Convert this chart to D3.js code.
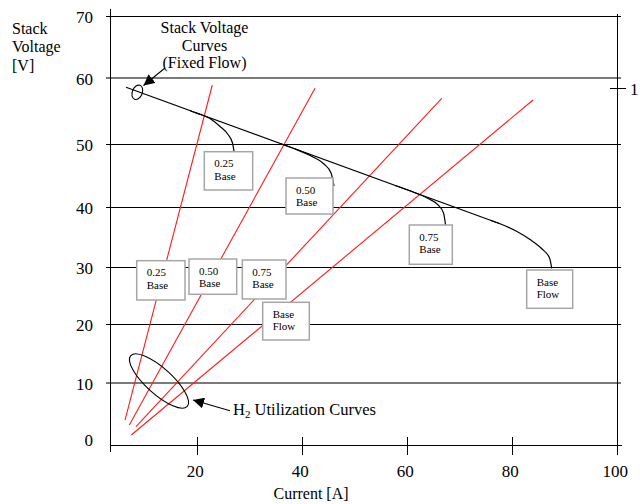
<!DOCTYPE html>
<html>
<head>
<meta charset="utf-8">
<script src="https://cdn.jsdelivr.net/npm/d3@7"></script>
<style>
  html, body { margin: 0; padding: 0; background: #fff; }
  svg { display: block; }
  text { font-family: "Liberation Serif", "DejaVu Serif", serif; fill: #000; }
</style>
</head>
<body>
<svg id="chart" width="640" height="504"></svg>
<script>
// ---------------- data ----------------
const yTicks = [0, 10, 20, 30, 40, 50, 60, 70];
const xTicks = [20, 40, 60, 80, 100];
const grayGridValues = [10, 60];

// Stack voltage (fixed flow) – common linear region, [current A, voltage V]
const voltageLine = [[6.45, 58.6], [77.67, 37.2]];
// drop-off of each fixed-flow curve
const curve025 = [[18.64, 55.05], [20.16, 54.61], [22.44, 53.86], [24.35, 52.65], [25.87, 51.44], [26.73, 50.15], [27.01, 48.89]];
const curve050 = [[35.77, 50.08], [38.25, 49.32], [41.87, 48.02], [44.15, 46.83], [45.49, 45.40], [46.06, 43.33]];
const curve075 = [[57.67, 43.41], [60.53, 42.57], [63.96, 41.35], [65.86, 40.32], [66.91, 39.0], [67.29, 37.0]];
const curveBase = [[75.77, 37.8], [77.67, 37.2], [80.72, 36.0], [83.38, 34.58], [85.67, 33.0], [87.1, 31.5], [87.52, 29.77]];

// H2 utilization lines [current A, voltage V]
const util025 = [[6.26, 4.03], [22.88, 58.94]];
const util050 = [[7.08, 3.23], [42.44, 58.44]];
const util075 = [[8.35, 2.98], [66.57, 56.92]];
const utilBase = [[7.46, 1.61], [83.96, 56.67]];

const curveLabels = [["0.25", "Base"], ["0.50", "Base"], ["0.75", "Base"], ["Base", "Flow"]];
const utilLabels = [["0.25", "Base"], ["0.50", "Base"], ["0.75", "Base"], ["Base", "Flow"]];

const yTitle = ["Stack", "Voltage", "[V]"];
const xTitle = "Current [A]";
const voltageNote = ["Stack Voltage", "Curves", "(Fixed Flow)"];

// ---------------- drawing ----------------
const svg = d3.select("#chart");

const x = d3.scaleLinear().domain([3.4, 100]).range([110, 617.3]);
const y = d3.scaleLinear().domain(yTicks).range([445, 383, 324, 267, 207, 144, 78, 16]);

// gridlines
svg.append("g").attr("shape-rendering", "crispEdges")
  .selectAll("line").data(yTicks.filter(d => d > 0)).join("line")
  .attr("x1", 106).attr("x2", 621)
  .attr("y1", d => y(d)).attr("y2", d => y(d))
  .attr("stroke", d => grayGridValues.includes(d) ? "#7a7a7a" : "#000")
  .attr("stroke-width", d => grayGridValues.includes(d) ? 2 : 1);

// axes frame
const frame = svg.append("g").attr("shape-rendering", "crispEdges");
frame.append("line").attr("x1", 110).attr("x2", 110).attr("y1", 9).attr("y2", 452).attr("stroke", "#000").attr("stroke-width", 1);
frame.append("line").attr("x1", 617).attr("x2", 617).attr("y1", 14).attr("y2", 450).attr("stroke", "#000").attr("stroke-width", 1);
frame.append("line").attr("x1", 110).attr("x2", 622).attr("y1", y(0)).attr("y2", y(0)).attr("stroke", "#000").attr("stroke-width", 1);

// x ticks
frame.append("g").selectAll("line").data(xTicks).join("line")
  .attr("x1", d => x(d)).attr("x2", d => x(d))
  .attr("y1", y(0) - 8).attr("y2", y(0) + 10)
  .attr("stroke", "#000").attr("stroke-width", 1);
svg.append("g").selectAll("text").data(xTicks).join("text")
  .attr("x", d => x(d) - 2).attr("y", 477)
  .attr("text-anchor", "middle").attr("font-size", 17)
  .text(d => d);

// y tick labels
svg.append("g").selectAll("text").data(yTicks).join("text")
  .attr("x", 93).attr("y", d => (d === 0 ? y(d) - 5 : y(d) + 1.5)).attr("dy", "0.35em")
  .attr("text-anchor", "end").attr("font-size", 17)
  .text(d => d);

// stray right-side tick & label
frame.append("line").attr("x1", 610).attr("x2", 626).attr("y1", 88).attr("y2", 88).attr("stroke", "#000").attr("stroke-width", 1);
svg.append("text").attr("x", 630).attr("y", 94.5).attr("font-size", 17).text("1");

// axis titles
svg.append("g").selectAll("text").data(yTitle).join("text")
  .attr("x", 12).attr("y", (d, i) => 33.5 + i * 18.5)
  .attr("font-size", 16).text(d => d);
svg.append("text").attr("x", 311).attr("y", 499).attr("text-anchor", "middle").attr("font-size", 16).text(xTitle);

// red H2 utilization lines
const line = d3.line().x(d => x(d[0])).y(d => y(d[1]));
svg.append("g").selectAll("path").data([util025, util050, util075, utilBase]).join("path")
  .attr("d", line).attr("fill", "none").attr("stroke", "#ff1a1a").attr("stroke-width", 1.1);

// stack voltage curves
svg.append("path").attr("d", line(voltageLine)).attr("fill", "none").attr("stroke", "#000").attr("stroke-width", 1.2);
const curveGen = d3.line().x(d => x(d[0])).y(d => y(d[1])).curve(d3.curveMonotoneX);
svg.append("g").selectAll("path").data([curve025, curve050, curve075, curveBase]).join("path")
  .attr("d", curveGen).attr("fill", "none").attr("stroke", "#000").attr("stroke-width", 1.2);

// label boxes
const curveBoxes = [
  { x: 204.3, y: 151.7, w: 48.4, h: 38.3 },
  { x: 286, y: 178, w: 47, h: 36 },
  { x: 409.3, y: 225, w: 43, h: 39.3 },
  { x: 526.7, y: 270, w: 46, h: 38.3 }
];
const utilBoxes = [
  { x: 136.7, y: 260.7, w: 48.3, h: 39.3 },
  { x: 189, y: 259, w: 47.7, h: 35.3 },
  { x: 242.3, y: 260, w: 43.7, h: 39 },
  { x: 262.7, y: 302.3, w: 46.6, h: 37.7 }
];
function drawBoxes(boxes, labels) {
  const g = svg.append("g").selectAll("g").data(boxes).join("g")
    .attr("transform", d => `translate(${d.x},${d.y})`);
  g.append("rect").attr("width", d => d.w).attr("height", d => d.h)
    .attr("fill", "#fff").attr("stroke", "#a6a6a6").attr("stroke-width", 1.5);
  g.each(function (d, i) {
    const gg = d3.select(this);
    labels[i].forEach((t, j) => {
      gg.append("text").attr("x", 10).attr("y", 15.5 + j * 12.5)
        .attr("font-size", 11).text(t);
    });
  });
}
drawBoxes(curveBoxes, curveLabels);
drawBoxes(utilBoxes, utilLabels);

// arrow marker
svg.append("defs").append("marker")
  .attr("id", "arr").attr("viewBox", "0 0 10 10").attr("refX", 10).attr("refY", 5)
  .attr("markerWidth", 11).attr("markerHeight", 11).attr("markerUnits", "userSpaceOnUse")
  .attr("orient", "auto")
  .append("path").attr("d", "M0,0 L10,5 L0,10 Z").attr("fill", "#000");

// Stack voltage note
svg.append("g").selectAll("text").data(voltageNote).join("text")
  .attr("x", 204.5).attr("y", (d, i) => 33.3 + i * 17.5)
  .attr("text-anchor", "middle").attr("font-size", 16).text(d => d);
svg.append("line").attr("x1", 165).attr("y1", 68).attr("x2", 143.5).attr("y2", 85.5)
  .attr("stroke", "#000").attr("stroke-width", 1.1).attr("marker-end", "url(#arr)");
svg.append("ellipse").attr("cx", 137.3).attr("cy", 92.3).attr("rx", 5).attr("ry", 7.5)
  .attr("transform", "rotate(22,137.3,92.3)")
  .attr("fill", "none").attr("stroke", "#000").attr("stroke-width", 1.1);

// H2 utilization note
svg.append("ellipse").attr("cx", 159).attr("cy", 381).attr("rx", 38).attr("ry", 13)
  .attr("transform", "rotate(42,159,381)")
  .attr("fill", "none").attr("stroke", "#000").attr("stroke-width", 1.1);
svg.append("line").attr("x1", 230).attr("y1", 410.7).attr("x2", 193).attr("y2", 400)
  .attr("stroke", "#000").attr("stroke-width", 1.1).attr("marker-end", "url(#arr)");
const h2 = svg.append("text").attr("x", 233).attr("y", 415).attr("font-size", 16.5);
h2.append("tspan").text("H");
h2.append("tspan").attr("font-size", 11).attr("dy", 3).text("2");
h2.append("tspan").attr("dy", -3).text(" Utilization Curves");
</script>
</body>
</html>
